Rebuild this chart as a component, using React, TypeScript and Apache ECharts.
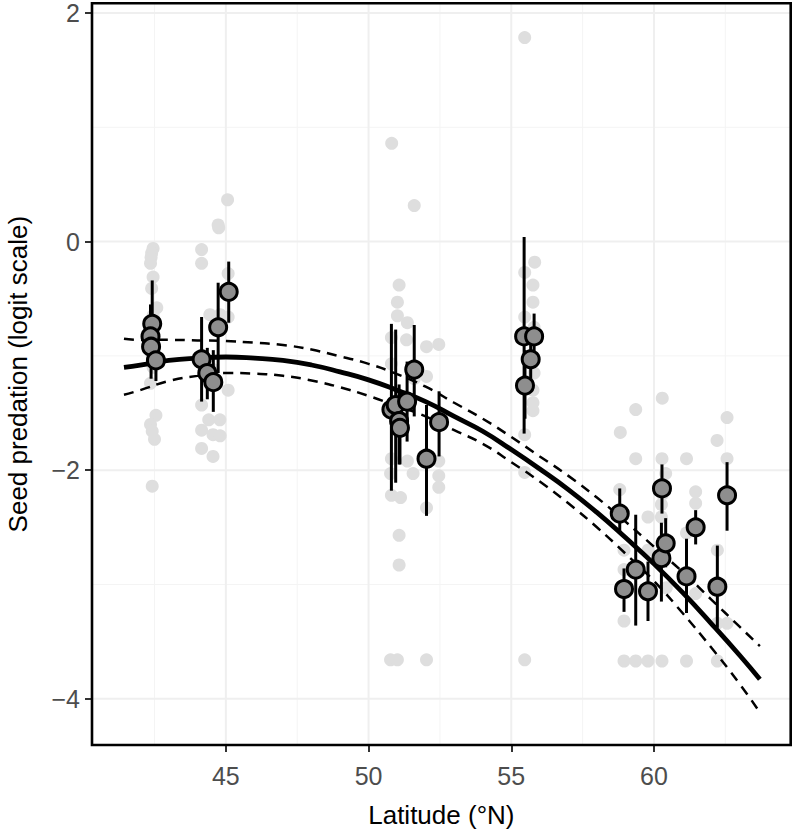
import React, { useEffect, useRef } from "react";
import * as echarts from "echarts";

// Axis ranges and ticks
const X_MIN = 40.31;
const X_MAX = 64.79;
const Y_MIN = -4.405;
const Y_MAX = 2.085;
const xMajorTicks = [45, 50, 55, 60];
const xMinorTicks = [42.5, 47.5, 52.5, 57.5, 62.5];
const yMajorTicks = [-4, -2, 0, 2];
const yMinorTicks = [-3, -1, 1];

// Raw observations (light grey points)
const rawLat = [
  42.45, 42.4, 42.38, 42.36, 42.45, 42.4, 42.58, 42.45, 42.4, 42.42, 42.45, 42.36, 42.55, 42.36, 42.42, 42.5, 42.42,
  44.15, 44.15, 44.75, 44.73, 45.06, 45.08, 44.44, 44.8, 45.08, 44.15, 44.55, 45.08, 44.15, 44.4, 44.79, 44.15, 44.55, 44.8, 44.15, 44.55,
  50.81, 51.6, 51.07, 51.01, 51.01, 51.36, 50.8, 51.33, 52.03, 52.46, 52.03, 50.8, 51.6, 51.36, 51.56, 52.46, 52.46, 52.46, 50.8, 50.77, 50.8, 51.12, 52.03, 51.07, 51.07, 50.77, 51.01, 52.03,
  55.47, 55.82, 55.47, 55.76, 55.76, 55.47, 55.8, 55.8, 55.76, 55.76, 55.76, 55.47, 55.47, 55.47,
  60.29, 59.36, 58.82, 62.56, 62.21, 59.36, 60.28, 61.14, 62.56, 60.41, 61.46, 61.46, 58.8, 59.79, 60.26, 60.26, 61.14, 62.22, 58.95, 58.95, 60.43, 61.46, 62.22, 62.56, 58.95, 59.79, 60.3,
  58.95, 59.36, 59.79, 60.28, 61.14, 62.22,
];
const rawPred = [
  -0.06, -0.1, -0.14, -0.19, -0.31, -0.41, -0.58, -0.65, -0.85, -1.0, -1.1, -1.24, -1.52, -1.6, -1.66, -1.73, -2.14,
  -0.07, -0.19, 0.12, 0.146, 0.365, -0.28, -0.64, -0.64, -0.66, -1.0, -1.12, -1.3, -1.43, -1.56, -1.56, -1.65, -1.69, -1.7, -1.81, -1.88,
  0.86, 0.315, -0.38, -0.53, -0.65, -0.71, -0.84, -0.86, -0.92, -0.9, -1.18, -1.07, -1.2, -1.92, -2.03, -1.92, -2.05, -2.15, -1.9, -2.03, -2.22, -2.24, -2.33, -2.57, -2.83, -3.66, -3.66, -3.66,
  1.785, -0.18, -0.27, -0.38, -0.53, -0.66, -0.75, -1.15, -1.3, -1.41, -1.48, -1.69, -2.02, -3.66,
  -1.37, -1.47, -1.67, -1.54, -1.74, -1.9, -1.9, -1.9, -1.9, -2.03, -2.19, -2.29, -2.17, -2.41, -2.3, -2.41, -2.55, -2.7, -2.7, -2.87, -3.03, -3.08, -3.34, -3.34, -3.32, -2.7, -2.21,
  -3.67, -3.67, -3.67, -3.67, -3.67, -3.67,
];

// Site means with 95% intervals (dark points + error bars)
const siteLat = [
  42.42, 42.36, 42.38, 42.55,
  44.15, 44.35, 44.56, 44.73, 45.1,
  50.8, 50.95, 51.07, 51.1, 51.35, 51.6, 52.03, 52.47,
  55.45, 55.48, 55.8, 55.68,
  58.8, 58.95, 59.36, 59.79, 60.28, 60.26, 60.41, 61.46, 61.14, 62.22, 62.56,
];
const siteMean = [
  -0.72, -0.83, -0.92, -1.04,
  -1.03, -1.15, -1.23, -0.75, -0.44,
  -1.47, -1.43, -1.57, -1.63, -1.4, -1.12, -1.9, -1.58,
  -0.83, -1.26, -0.83, -1.03,
  -2.38, -3.04, -2.87, -3.06, -2.16, -2.77, -2.64, -2.5, -2.93, -3.02, -2.22,
];
const siteLo = [
  -1.0, -1.1, -1.2, -1.22,
  -1.4, -1.38, -1.49, -1.15, -0.71,
  -2.18, -2.11, -1.95, -1.95, -1.75, -1.53, -2.4, -1.88,
  -1.68, -1.55, -1.0, -1.2,
  -2.55, -3.24, -3.36, -3.32, -2.38, -3.15, -2.85, -2.65, -3.25, -3.38, -2.53,
];
const siteHi = [
  -0.34, -0.55, -0.62, -0.82,
  -0.66, -0.93, -0.95, -0.36, -0.175,
  -0.72, -0.77, -1.25, -1.3, -1.05, -0.73, -1.43, -1.31,
  0.04, -0.95, -0.63, -0.85,
  -2.16, -2.86, -2.39, -2.8, -1.95, -2.46, -2.42, -2.35, -2.6, -2.66, -1.93,
];

// Fitted curve and its confidence band
const fitLat = [41.43, 42, 43, 44, 45, 46, 47, 48, 49, 50, 51, 52, 53, 54, 55, 56, 57, 58, 59, 60, 61, 62, 63, 63.71];
const fitMean = [-1.1, -1.08, -1.04, -1.02, -1.01, -1.02, -1.04, -1.08, -1.14, -1.21, -1.3, -1.4, -1.53, -1.66, -1.82, -1.99, -2.17, -2.37, -2.59, -2.82, -3.07, -3.34, -3.62, -3.83];
const fitUpper = [-0.85, -0.86, -0.86, -0.865, -0.87, -0.885, -0.905, -0.945, -1.005, -1.07, -1.16, -1.27, -1.41, -1.55, -1.71, -1.88, -2.05, -2.24, -2.45, -2.67, -2.89, -3.13, -3.37, -3.54];
const fitLower = [-1.34, -1.3, -1.22, -1.175, -1.15, -1.155, -1.175, -1.215, -1.275, -1.35, -1.44, -1.53, -1.65, -1.77, -1.93, -2.1, -2.29, -2.5, -2.73, -2.97, -3.25, -3.55, -3.87, -4.12];

const FONT = "'Liberation Sans', Arial, Helvetica, sans-serif";

export default function App() {
  const ref = useRef<HTMLDivElement>(null);

  useEffect(() => {
    if (!ref.current) return;
    const chart = echarts.init(ref.current, undefined, { renderer: "svg" });

    const gridRows: number[][] = [];
    xMinorTicks.forEach((v) => gridRows.push([v, 0, 0]));
    yMinorTicks.forEach((v) => gridRows.push([v, 1, 0]));
    xMajorTicks.forEach((v) => gridRows.push([v, 0, 1]));
    yMajorTicks.forEach((v) => gridRows.push([v, 1, 1]));

    const rawData = rawLat.map((x, i) => [x, rawPred[i]]);
    const siteData = siteLat.map((x, i) => [x, siteMean[i]]);
    const barData = siteLat.map((x, i) => [x, siteLo[i], siteHi[i]]);
    const fitData = fitLat.map((x, i) => [x, fitMean[i]]);
    const upData = fitLat.map((x, i) => [x, fitUpper[i]]);
    const loData = fitLat.map((x, i) => [x, fitLower[i]]);

    const minus = (v: number) => (v < 0 ? "\u2212" + Math.abs(v) : String(v));

    const gridLeft = 92;
    const gridTop = 3.3;
    const gridRight = 3.3;
    const gridBottom = 90;

    chart.setOption({
      animation: false,
      backgroundColor: "#ffffff",
      textStyle: { fontFamily: FONT },
      grid: {
        left: gridLeft,
        top: gridTop,
        right: gridRight,
        bottom: gridBottom,
        show: false,
        containLabel: false,
        outerBoundsMode: "none",
      },
      xAxis: {
        type: "value",
        min: X_MIN,
        max: X_MAX,
        axisLine: { show: false, onZero: false },
        splitLine: { show: false },
        axisTick: { show: true, customValues: xMajorTicks, length: 7, lineStyle: { color: "#333333", width: 2 } },
        axisLabel: { customValues: xMajorTicks, fontSize: 25, color: "#4d4d4d", margin: 18, fontFamily: FONT },
        name: "Latitude (°N)",
        nameLocation: "middle",
        nameGap: 57,
        nameTextStyle: { fontSize: 26, color: "#000000", fontFamily: FONT },
      },
      yAxis: {
        type: "value",
        min: Y_MIN,
        max: Y_MAX,
        axisLine: { show: false, onZero: false },
        splitLine: { show: false },
        axisTick: { show: true, customValues: yMajorTicks, length: 7, lineStyle: { color: "#333333", width: 2 } },
        axisLabel: { customValues: yMajorTicks, fontSize: 25, color: "#4d4d4d", margin: 12, fontFamily: FONT, formatter: minus },
        name: "Seed predation (logit scale)",
        nameLocation: "middle",
        nameGap: 61,
        nameTextStyle: { fontSize: 26, color: "#000000", fontFamily: FONT },
      },
      graphic: [
        {
          type: "rect",
          z: 100,
          silent: true,
          shape: { x: gridLeft, y: gridTop, width: 794 - gridLeft - gridRight, height: 835 - gridTop - gridBottom },
          style: { fill: "none", stroke: "#000000", lineWidth: 2.6 },
        },
      ],
      series: [
        {
          type: "custom",
          z: 0,
          silent: true,
          data: gridRows,
          renderItem: (params: any, api: any) => {
            const v = api.value(0);
            const isY = api.value(1) === 1;
            const major = api.value(2) === 1;
            const a = isY ? api.coord([X_MIN, v]) : api.coord([v, Y_MIN]);
            const b = isY ? api.coord([X_MAX, v]) : api.coord([v, Y_MAX]);
            return {
              type: "line",
              shape: { x1: a[0], y1: a[1], x2: b[0], y2: b[1] },
              style: { stroke: major ? "#efefef" : "#f4f4f4", lineWidth: major ? 2 : 1 },
            };
          },
        },
        {
          type: "scatter",
          z: 1,
          data: rawData,
          symbol: "circle",
          symbolSize: 13,
          itemStyle: { color: "#dedede", opacity: 1 },
          silent: true,
        },
        {
          type: "line",
          z: 2,
          data: upData,
          showSymbol: false,
          smooth: true,
          lineStyle: { color: "#000000", width: 2.5, type: [10, 7] },
          silent: true,
        },
        {
          type: "line",
          z: 2,
          data: loData,
          showSymbol: false,
          smooth: true,
          lineStyle: { color: "#000000", width: 2.5, type: [10, 7] },
          silent: true,
        },
        {
          type: "line",
          z: 3,
          data: fitData,
          showSymbol: false,
          smooth: true,
          lineStyle: { color: "#000000", width: 4.8 },
          silent: true,
        },
        {
          type: "custom",
          z: 4,
          silent: true,
          data: barData,
          encode: { x: 0, y: [1, 2] },
          renderItem: (params: any, api: any) => {
            const p1 = api.coord([api.value(0), api.value(1)]);
            const p2 = api.coord([api.value(0), api.value(2)]);
            return {
              type: "line",
              shape: { x1: p1[0], y1: p1[1], x2: p2[0], y2: p2[1] },
              style: { stroke: "#000000", lineWidth: 3 },
            };
          },
        },
        {
          type: "scatter",
          z: 5,
          data: siteData,
          symbol: "circle",
          symbolSize: 17,
          itemStyle: { color: "#8e8e8e", borderColor: "#000000", borderWidth: 3, opacity: 1 },
          silent: true,
        },
      ],
    });

    return () => chart.dispose();
  }, []);

  return (
    <div
      ref={ref}
      style={{ position: "fixed", left: 0, top: 0, width: 794, height: 835, background: "#ffffff" }}
    />
  );
}
